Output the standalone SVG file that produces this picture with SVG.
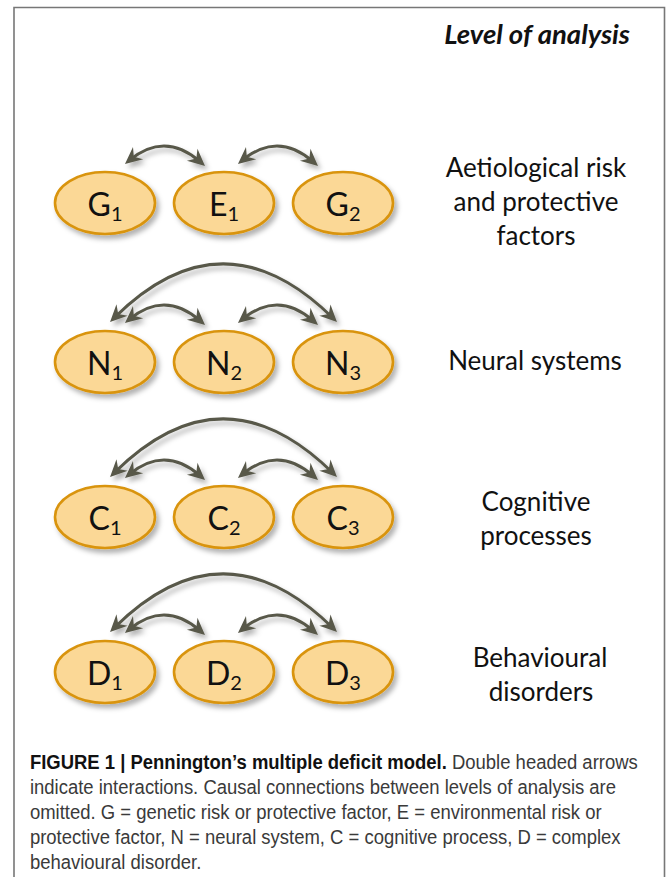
<svg xmlns="http://www.w3.org/2000/svg" width="669" height="877" viewBox="0 0 669 877">
<style>
.node ellipse{fill:#fbd896;stroke:#d99410;stroke-width:2.6;filter:url(#sh)}
.lab{font-family:Lato,"Open Sans",sans-serif;font-size:32px;fill:#111;text-anchor:middle}
.sub{font-size:20px}
.lvl{font-family:Lato,"Open Sans",sans-serif;font-size:26px;fill:#111;text-anchor:middle}
.arc{fill:none;stroke:#58584a;stroke-width:3;marker-start:url(#ah);marker-end:url(#ah)}
.cap{font-family:"Liberation Sans",Arial,sans-serif;font-size:21px;fill:#3a3a3a}
.b{font-weight:bold;fill:#111}
</style>
<defs>
<filter id="sh" x="-20%" y="-20%" width="150%" height="160%">
<feDropShadow dx="3" dy="4" stdDeviation="2.5" flood-color="#000" flood-opacity="0.3"/>
</filter>
<marker id="ah" markerUnits="userSpaceOnUse" orient="auto-start-reverse" refX="0" refY="0" markerWidth="30" markerHeight="30" viewBox="-15 -15 30 30" overflow="visible">
<path d="M6,0 L-11,-8 L-5.5,0 L-11,8 Z" fill="#58584a"/>
</marker>
</defs>
<rect width="669" height="877" fill="#fff"/>
<path d="M14,880 V7.5 H664.5 V880" fill="none" stroke="#777" stroke-width="1.6"/>
<text x="630" y="44" font-family="Lato,'Open Sans',sans-serif" font-size="27.5" font-weight="bold" font-style="italic" text-anchor="end" fill="#111">Level of analysis</text>

<g id="connectors" filter="url(#sh)">
<path class="arc" d="M129.6,160.2 Q165,131 200.5,162"/>
<path class="arc" d="M242.6,160.2 Q278,131 313.5,162"/>
<path class="arc" d="M129.6,319.2 Q165,290 200.5,321"/>
<path class="arc" d="M242.6,319.2 Q278,290 313.5,321"/>
<path class="arc" d="M114.3,317.8 Q223,210 332.7,317.8"/>
<path class="arc" d="M129.6,474.2 Q165,445 200.5,476"/>
<path class="arc" d="M242.6,474.2 Q278,445 313.5,476"/>
<path class="arc" d="M114.3,472.8 Q223,365 332.7,472.8"/>
<path class="arc" d="M129.6,629.2 Q165,600 200.5,631"/>
<path class="arc" d="M242.6,629.2 Q278,600 313.5,631"/>
<path class="arc" d="M114.3,627.8 Q223,520 332.7,627.8"/>
</g>

<g id="G1" class="node"><ellipse cx="105" cy="203" rx="50" ry="31"/><text class="lab" x="105" y="216">G<tspan class="sub" dy="5">1</tspan></text></g>
<g id="E1" class="node"><ellipse cx="224" cy="203" rx="50" ry="31"/><text class="lab" x="224" y="216">E<tspan class="sub" dy="5">1</tspan></text></g>
<g id="G2" class="node"><ellipse cx="343" cy="203" rx="50" ry="31"/><text class="lab" x="343" y="216">G<tspan class="sub" dy="5">2</tspan></text></g>

<g id="N1" class="node"><ellipse cx="105" cy="362" rx="50" ry="31"/><text class="lab" x="105" y="375">N<tspan class="sub" dy="5">1</tspan></text></g>
<g id="N2" class="node"><ellipse cx="224" cy="362" rx="50" ry="31"/><text class="lab" x="224" y="375">N<tspan class="sub" dy="5">2</tspan></text></g>
<g id="N3" class="node"><ellipse cx="343" cy="362" rx="50" ry="31"/><text class="lab" x="343" y="375">N<tspan class="sub" dy="5">3</tspan></text></g>

<g id="C1" class="node"><ellipse cx="105" cy="517" rx="50" ry="31"/><text class="lab" x="105" y="530">C<tspan class="sub" dy="5">1</tspan></text></g>
<g id="C2" class="node"><ellipse cx="224" cy="517" rx="50" ry="31"/><text class="lab" x="224" y="530">C<tspan class="sub" dy="5">2</tspan></text></g>
<g id="C3" class="node"><ellipse cx="343" cy="517" rx="50" ry="31"/><text class="lab" x="343" y="530">C<tspan class="sub" dy="5">3</tspan></text></g>

<g id="D1" class="node"><ellipse cx="105" cy="672" rx="50" ry="31"/><text class="lab" x="105" y="685">D<tspan class="sub" dy="5">1</tspan></text></g>
<g id="D2" class="node"><ellipse cx="224" cy="672" rx="50" ry="31"/><text class="lab" x="224" y="685">D<tspan class="sub" dy="5">2</tspan></text></g>
<g id="D3" class="node"><ellipse cx="343" cy="672" rx="50" ry="31"/><text class="lab" x="343" y="685">D<tspan class="sub" dy="5">3</tspan></text></g>

<g id="levels">
<text class="lvl" x="536" y="177">Aetiological risk</text>
<text class="lvl" x="536" y="211">and protective</text>
<text class="lvl" x="536" y="245">factors</text>
<text class="lvl" x="535" y="370">Neural systems</text>
<text class="lvl" x="536" y="511">Cognitive</text>
<text class="lvl" x="536" y="545">processes</text>
<text class="lvl" x="540" y="667">Behavioural</text>
<text class="lvl" x="541" y="701">disorders</text>
</g>

<g id="caption" transform="scale(0.88,1)">
<text class="cap" x="34" y="769"><tspan class="b">FIGURE 1 | Pennington’s multiple deficit model.</tspan> Double headed arrows</text>
<text class="cap" x="34" y="794">indicate interactions. Causal connections between levels of analysis are</text>
<text class="cap" x="34" y="819">omitted. G = genetic risk or protective factor, E = environmental risk or</text>
<text class="cap" x="34" y="844">protective factor, N = neural system, C = cognitive process, D = complex</text>
<text class="cap" x="34" y="869">behavioural disorder.</text>
</g>
</svg>
